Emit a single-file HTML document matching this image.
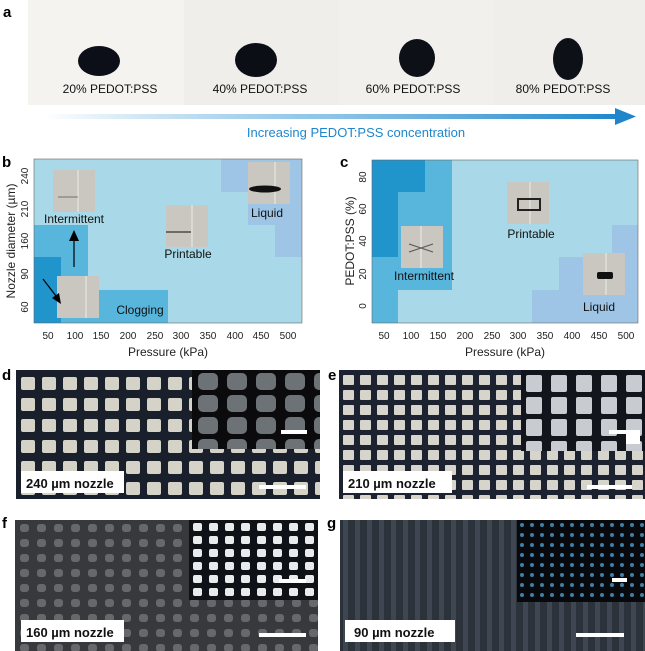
<!DOCTYPE html>
<html><head><meta charset="utf-8"><style>
html,body{margin:0;padding:0;background:#fff}
svg{display:block;font-family:"Liberation Sans",sans-serif}
</style></head><body>
<svg width="645" height="651" viewBox="0 0 645 651" xmlns="http://www.w3.org/2000/svg">
<defs>
<linearGradient id="arr" x1="0" x2="1"><stop offset="0" stop-color="#2a8fd0" stop-opacity="0"/><stop offset="0.5" stop-color="#5aaadc" stop-opacity="0.7"/><stop offset="1" stop-color="#1f86cc"/></linearGradient>
<pattern id="pd" width="21" height="21" patternUnits="userSpaceOnUse" x="16" y="372"><rect width="21" height="21" fill="#1a1f2c"/><rect x="5" y="5" width="14" height="13" rx="2" fill="#d5d2c8"/></pattern>
<pattern id="pdi" width="29" height="22" patternUnits="userSpaceOnUse" x="192" y="370"><rect width="29" height="22" fill="#0b0b0d"/><rect x="6" y="3" width="20" height="17" rx="5" fill="#6d7277"/></pattern>
<pattern id="pe" width="17" height="15" patternUnits="userSpaceOnUse" x="339" y="372"><rect width="17" height="15" fill="#1c2230"/><rect x="4" y="3" width="11" height="10" rx="1" fill="#d7d4cb"/></pattern>
<pattern id="pei" width="25" height="22" patternUnits="userSpaceOnUse" x="521" y="372"><rect width="25" height="22" fill="#12161c"/><rect x="5" y="3" width="16" height="17" rx="2" fill="#c8ccd0"/></pattern>
<pattern id="pf" width="17" height="15" patternUnits="userSpaceOnUse" x="15" y="520"><rect width="17" height="15" fill="#37393c"/><rect x="5" y="4" width="9" height="8" rx="3" fill="#66686b"/></pattern>
<pattern id="pfi" width="16" height="13" patternUnits="userSpaceOnUse" x="189" y="520"><rect width="16" height="13" fill="#0e1216"/><rect x="4" y="3" width="9" height="8" rx="2" fill="#e8eaec"/></pattern>
<pattern id="pg" width="12" height="12" patternUnits="userSpaceOnUse" x="340" y="520"><rect width="12" height="12" fill="#2c323a"/><rect x="3" y="0" width="5" height="12" fill="#3e4651"/></pattern>
<pattern id="pgi" width="10" height="10" patternUnits="userSpaceOnUse" x="517" y="520"><rect width="10" height="10" fill="#07090c"/><rect x="3" y="3" width="4" height="4" rx="2" fill="#3f7fa8"/></pattern>
</defs>

<text x="3" y="17" font-size="15" font-weight="bold">a</text>
<rect x="28" y="0" width="156" height="105" fill="#f4f3f0"/>
<rect x="184" y="0" width="155" height="105" fill="#efeeea"/>
<rect x="339" y="0" width="155" height="105" fill="#f1f0ed"/>
<rect x="494" y="0" width="151" height="105" fill="#efeeeb"/>
<ellipse cx="99" cy="61" rx="21" ry="15" fill="#0d0f18"/>
<ellipse cx="256" cy="60" rx="21" ry="17" fill="#0c0e16"/>
<ellipse cx="417" cy="58" rx="18" ry="19" fill="#0e1018"/>
<ellipse cx="568" cy="59" rx="15" ry="21" fill="#0e1018"/>
<g font-size="12" text-anchor="middle" fill="#111"><text x="110" y="93">20% PEDOT:PSS</text><text x="260" y="93">40% PEDOT:PSS</text><text x="413" y="93">60% PEDOT:PSS</text><text x="563" y="93">80% PEDOT:PSS</text></g>
<rect x="45" y="114" width="572" height="5" fill="url(#arr)"/>
<polygon points="615,108 636,116.5 615,125" fill="#1f86cc"/>
<text x="356" y="137" font-size="13" text-anchor="middle" fill="#1f86cc">Increasing PEDOT:PSS concentration</text>

<text x="2" y="167" font-size="15" font-weight="bold">b</text>
<rect x="34" y="159" width="268" height="164" fill="#a9d9e8"/>
<rect x="221" y="159" width="81" height="33" fill="#9fc5e6"/>
<rect x="248" y="192" width="54" height="33" fill="#9fc5e6"/>
<rect x="275" y="225" width="27" height="32" fill="#9fc5e6"/>
<rect x="34" y="225" width="54" height="98" fill="#58b5dc"/>
<rect x="88" y="290" width="80" height="33" fill="#58b5dc"/>
<rect x="34" y="257" width="27" height="66" fill="#1f95cc"/>
<rect x="34" y="159" width="268" height="164" fill="none" stroke="#666" stroke-width="0.6"/>
<rect x="53" y="170" width="42" height="42" fill="#c9c7bf"/><line x1="78" y1="170" x2="78" y2="212" stroke="#eee"/><line x1="58" y1="197" x2="78" y2="197" stroke="#555" stroke-width="0.8"/>
<rect x="57" y="276" width="42" height="42" fill="#c9c7bf"/><line x1="86" y1="276" x2="86" y2="318" stroke="#eee"/>
<rect x="166" y="205" width="42" height="42" fill="#c9c7bf"/><line x1="192" y1="205" x2="192" y2="247" stroke="#eee"/><line x1="166" y1="232" x2="191" y2="232" stroke="#333" stroke-width="1.2"/>
<rect x="248" y="162" width="42" height="42" fill="#c9c7bf"/><line x1="275" y1="162" x2="275" y2="204" stroke="#eee"/><ellipse cx="265" cy="189" rx="16" ry="3.5" fill="#111"/>
<line x1="74" y1="267" x2="74" y2="240" stroke="#000" stroke-width="1.2"/><polygon points="69,241 74,230 79,241" fill="#000"/>
<line x1="43" y1="279" x2="56" y2="296" stroke="#000" stroke-width="1.2"/><polygon points="52,298 61,304 59,293" fill="#000"/>
<g font-size="12" text-anchor="middle" fill="#111"><text x="74" y="223">Intermittent</text><text x="188" y="258">Printable</text><text x="267" y="217">Liquid</text><text x="140" y="314">Clogging</text></g>
<g font-size="10" text-anchor="middle" fill="#222">
<text x="48" y="339">50</text><text x="75" y="339">100</text><text x="101" y="339">150</text><text x="128" y="339">200</text><text x="155" y="339">250</text><text x="181" y="339">300</text><text x="208" y="339">350</text><text x="235" y="339">400</text><text x="261" y="339">450</text><text x="288" y="339">500</text>
<text transform="translate(28,307) rotate(-90)">60</text><text transform="translate(28,274) rotate(-90)">90</text><text transform="translate(28,241) rotate(-90)">160</text><text transform="translate(28,209) rotate(-90)">210</text><text transform="translate(28,176) rotate(-90)">240</text>
</g>
<text x="168" y="356" font-size="12" text-anchor="middle" fill="#222">Pressure (kPa)</text>
<text transform="translate(15,241) rotate(-90)" font-size="12" text-anchor="middle" fill="#222">Nozzle diameter (µm)</text>

<text x="340" y="167" font-size="15" font-weight="bold">c</text>
<rect x="372" y="160" width="266" height="163" fill="#a9d9e8"/>
<rect x="532" y="290" width="106" height="33" fill="#9fc5e6"/>
<rect x="559" y="257" width="79" height="33" fill="#9fc5e6"/>
<rect x="612" y="225" width="26" height="32" fill="#9fc5e6"/>
<rect x="372" y="257" width="26" height="66" fill="#58b5dc"/>
<rect x="398" y="192" width="54" height="98" fill="#58b5dc"/>
<rect x="425" y="160" width="27" height="32" fill="#58b5dc"/>
<rect x="372" y="160" width="26" height="97" fill="#1f95cc"/>
<rect x="398" y="160" width="27" height="32" fill="#1f95cc"/>
<rect x="372" y="160" width="266" height="163" fill="none" stroke="#666" stroke-width="0.6"/>
<rect x="401" y="226" width="42" height="42" fill="#c9c7bf"/><line x1="421" y1="226" x2="421" y2="268" stroke="#eee"/><path d="M409 244 L433 252 M409 252 L433 244" stroke="#555"/>
<rect x="507" y="182" width="42" height="42" fill="#c9c7bf"/><line x1="530" y1="182" x2="530" y2="224" stroke="#eee"/><rect x="518" y="199" width="22" height="11" fill="none" stroke="#222" stroke-width="2"/>
<rect x="583" y="253" width="42" height="42" fill="#c9c7bf"/><line x1="606" y1="253" x2="606" y2="295" stroke="#eee"/><rect x="597" y="272" width="16" height="7" rx="2" fill="#111"/>
<g font-size="12" text-anchor="middle" fill="#111"><text x="424" y="280">Intermittent</text><text x="531" y="238">Printable</text><text x="599" y="311">Liquid</text></g>
<g font-size="10" text-anchor="middle" fill="#222">
<text x="384" y="339">50</text><text x="411" y="339">100</text><text x="438" y="339">150</text><text x="465" y="339">200</text><text x="492" y="339">250</text><text x="518" y="339">300</text><text x="545" y="339">350</text><text x="572" y="339">400</text><text x="599" y="339">450</text><text x="626" y="339">500</text>
<text transform="translate(366,306) rotate(-90)">0</text><text transform="translate(366,274) rotate(-90)">20</text><text transform="translate(366,241) rotate(-90)">40</text><text transform="translate(366,209) rotate(-90)">60</text><text transform="translate(366,177) rotate(-90)">80</text>
</g>
<text x="505" y="356" font-size="12" text-anchor="middle" fill="#222">Pressure (kPa)</text>
<text transform="translate(354,241) rotate(-90)" font-size="12" text-anchor="middle" fill="#222">PEDOT:PSS (%)</text>

<text x="2" y="380" font-size="15" font-weight="bold">d</text>
<rect x="16" y="370" width="304" height="129" fill="url(#pd)"/>
<rect x="192" y="370" width="128" height="79" fill="url(#pdi)"/>
<rect x="281" y="430" width="26" height="4" fill="#fff"/>
<rect x="259" y="485" width="47" height="4" fill="#fff"/>
<rect x="21" y="471" width="103" height="22" fill="#fff"/>
<text x="26" y="488" font-size="13" font-weight="bold" fill="#111">240 µm nozzle</text>

<text x="328" y="380" font-size="15" font-weight="bold">e</text>
<rect x="339" y="370" width="306" height="129" fill="url(#pe)"/>
<rect x="521" y="370" width="124" height="81" fill="url(#pei)"/>
<rect x="609" y="430" width="23" height="4" fill="#fff"/><rect x="626" y="430" width="14" height="14" fill="#fff"/>
<rect x="587" y="485" width="45" height="4" fill="#fff"/>
<rect x="343" y="471" width="109" height="22" fill="#fff"/>
<text x="348" y="488" font-size="13" font-weight="bold" fill="#111">210 µm nozzle</text>

<text x="2" y="528" font-size="15" font-weight="bold">f</text>
<rect x="15" y="520" width="303" height="131" fill="url(#pf)"/>
<rect x="189" y="520" width="129" height="80" fill="url(#pfi)"/>
<rect x="279" y="579" width="27" height="4" fill="#fff"/>
<rect x="259" y="633" width="47" height="4" fill="#fff"/>
<rect x="21" y="620" width="103" height="22" fill="#fff"/>
<text x="26" y="637" font-size="13" font-weight="bold" fill="#111">160 µm nozzle</text>

<text x="327" y="528" font-size="15" font-weight="bold">g</text>
<rect x="340" y="520" width="305" height="131" fill="url(#pg)"/>
<rect x="517" y="520" width="128" height="82" fill="url(#pgi)"/>
<rect x="612" y="578" width="15" height="4" fill="#fff"/>
<rect x="576" y="633" width="48" height="4" fill="#fff"/>
<rect x="345" y="620" width="110" height="22" fill="#fff"/>
<text x="354" y="637" font-size="13" font-weight="bold" fill="#111">90 µm nozzle</text>
</svg>
</body></html>
